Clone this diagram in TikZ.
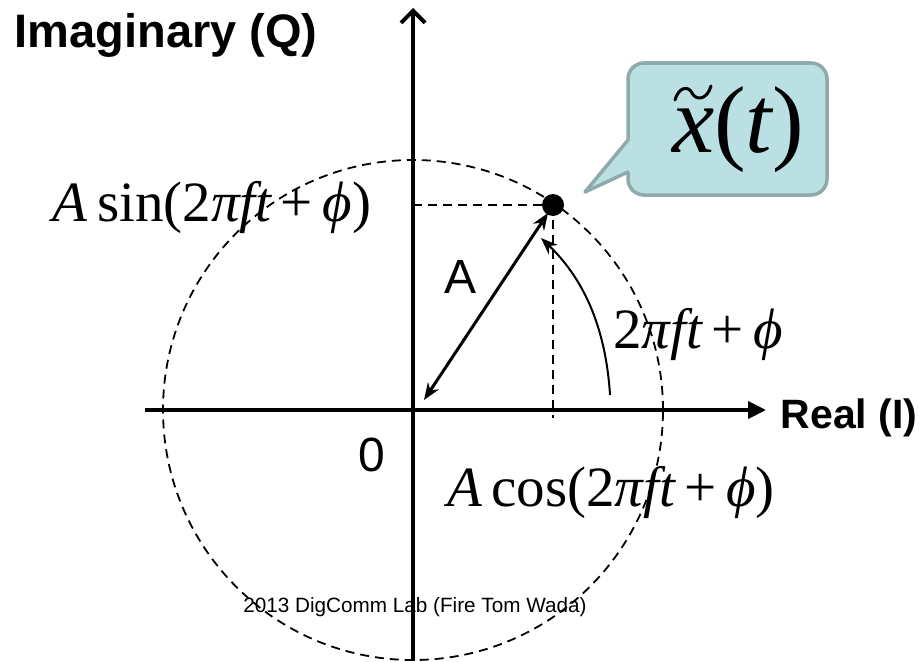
\documentclass[tikz,border=0pt]{standalone}
\usepackage{fontspec}
\setmainfont{Liberation Serif}
\newfontfamily\arial{Liberation Sans}
\usetikzlibrary{arrows.meta}
\definecolor{callfill}{HTML}{BBE0E3}
\definecolor{calldraw}{HTML}{8FAAAC}
\tikzset{
  axisline/.style={line width=4pt},
  guide/.style={line width=1.8pt, dash pattern=on 9pt off 6pt},
  boldlabel/.style={font=\arial\bfseries\fontsize{47}{47}\selectfont, inner sep=0pt},
  plainlabel/.style={font=\arial\fontsize{48}{48}\selectfont, inner sep=0pt},
  mathlabel/.style={font=\fontsize{57}{57}\selectfont, inner sep=0pt},
}
\begin{document}
\begin{tikzpicture}[x=1pt,y=-1pt]
\useasboundingbox (0,0) rectangle (920,661);
\coordinate (O) at (413,410);
\coordinate (P) at (553,205);
\coordinate (Ytop) at (413,8);
\coordinate (Ybot) at (413,661);
\coordinate (Xl) at (145,410);
\coordinate (Xr) at (766,410);
\coordinate (Hs) at (413,205);
\coordinate (Ve) at (553,418);
\coordinate (Atail) at (424,400);
\coordinate (Ahead) at (548,213);
\coordinate (Cs) at (610,395);
\coordinate (Ce) at (541,238);
% dashed circle
\draw[guide] (O) circle (250pt);
% axes
\draw[axisline, -{Straight Barb[length=12pt,width=24pt,line width=4pt]}] (Ybot) -- (Ytop);
\draw[axisline, -{Triangle[length=18pt,width=17pt]}] (Xl) -- (Xr);
% projections
\draw[guide] (Hs) -- (P);
\draw[guide] (P) -- (Ve);
% amplitude arrow
\draw[line width=3pt, {Stealth[length=17pt,width=13pt]}-{Stealth[length=17pt,width=13pt]}] (Atail) -- (Ahead);
% angle arrow
\draw[line width=2pt, -{Stealth[length=17pt,width=13pt]}] (Cs) .. controls (606,330) and (585,280) .. (Ce);
% point
\fill (P) circle (11pt);
% callout
\filldraw[fill=callfill, draw=calldraw, line width=3.5pt, line join=round]
  (628,110) [rounded corners=16pt] -- (628,63) -- (827,63) -- (827,195) -- (628,195) [sharp corners] -- (628,172) -- (585,192) -- (628,140) -- cycle;
\node[inner sep=0pt, font=\fontsize{95}{95}\selectfont] (xt) at (738,130) {\itshape x\upshape(\itshape t\upshape)};
\draw[line width=3pt, line cap=round] (675,100) .. controls (679,86) and (689,86) .. (692,93) .. controls (696,101) and (707,100) .. (711,86);
% labels
\node[boldlabel] (imag) at (166,35) {Imaginary (Q)};
\node[boldlabel, font=\arial\bfseries\fontsize{41}{41}\selectfont] (real) at (849,418) {Real (I)};
\node[plainlabel] (Alab) at (461,277) {A};
\node[plainlabel] (zero) at (372,455) {0};
\node[mathlabel, anchor=base] (sinlab) at (212,221) {\itshape A\upshape\,sin(2\itshape πft\upshape\,+\,\itshape ϕ\upshape)};
\node[mathlabel, anchor=base] (cos) at (611,506) {\itshape A\upshape\,cos(2\itshape πft\upshape\,+\,\itshape ϕ\upshape)};
\node[mathlabel, anchor=base] (ang) at (698,348) {2\itshape πft\upshape\,+\,\itshape ϕ};
\node[inner sep=0pt, font=\arial\fontsize{20.7}{20.7}\selectfont] (foot) at (415,607) {2013 DigComm Lab (Fire Tom Wada)};
\end{tikzpicture}
\end{document}
